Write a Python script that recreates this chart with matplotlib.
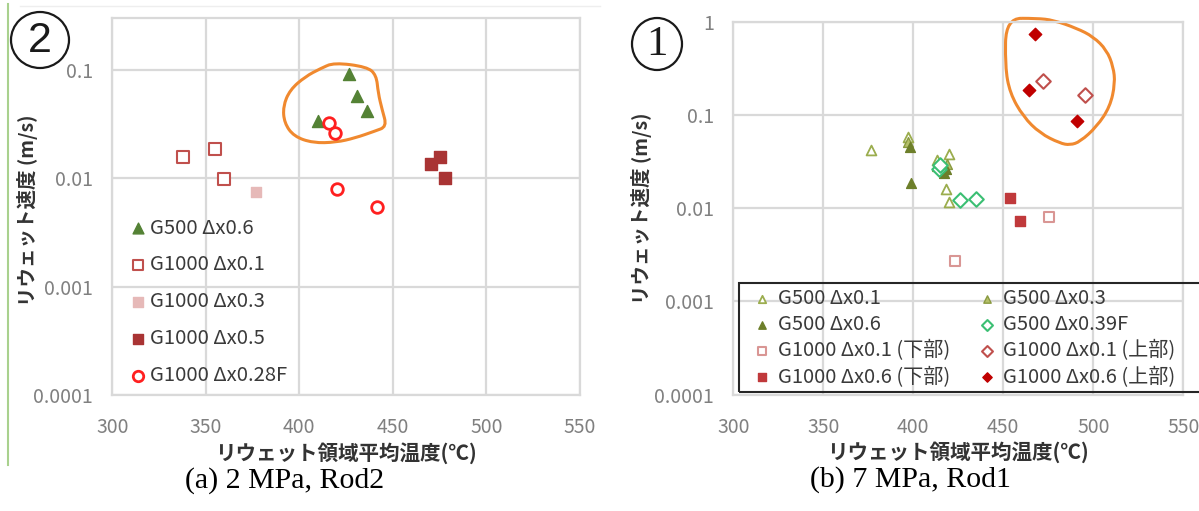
import numpy as np
import matplotlib
matplotlib.use('Agg')
import matplotlib.pyplot as plt
from matplotlib.path import Path
from matplotlib.patches import PathPatch, Rectangle, Ellipse
from matplotlib.ticker import FixedLocator, FixedFormatter, NullLocator

plt.rcParams['font.family'] = ['Noto Sans CJK JP', 'DejaVu Sans']

# ---- (a) 2 MPa, Rod2 ----
a_g500_06_x = [426.5, 431, 436, 410]
a_g500_06_y = [0.092, 0.057, 0.042, 0.034]
a_g1000_01_x = [338, 355, 359.5]
a_g1000_01_y = [0.0159, 0.0187, 0.0099]
a_g1000_03_x = [377]
a_g1000_03_y = [0.0075]
a_g1000_05_x = [470.5, 475, 478]
a_g1000_05_y = [0.0136, 0.0159, 0.0100]
a_g1000_028f_x = [416, 419, 420, 441.5]
a_g1000_028f_y = [0.0322, 0.026, 0.0079, 0.0054]

# hand-drawn loop around the high-speed group
a_loop_x = [418.6, 436.1, 441.2, 442.2, 444.3, 446.8, 440.2, 429.9,
            419.7, 407.3, 397.1, 392.0, 391.3, 395.0, 403.2, 411.5]
a_loop_y = [0.117, 0.107, 0.090, 0.061, 0.043, 0.030, 0.0272, 0.0236,
            0.0215, 0.0212, 0.0244, 0.0324, 0.0461, 0.0656, 0.0869, 0.1035]

# ---- (b) 7 MPa, Rod1 ----
b_g500_01_x = [376.5, 397, 420, 418, 420, 413]
b_g500_01_y = [0.042, 0.0575, 0.038, 0.0159, 0.0117, 0.033]
b_g500_03_x = [397, 418.5, 413]
b_g500_03_y = [0.051, 0.030, 0.028]
b_g500_06_x = [398, 398.5, 417, 418]
b_g500_06_y = [0.0455, 0.0185, 0.024, 0.0265]
b_g500_039f_x = [414, 415, 426, 435]
b_g500_039f_y = [0.0265, 0.029, 0.0122, 0.0124]
b_g1000_01_lo_x = [423, 475.5]
b_g1000_01_lo_y = [0.0027, 0.0081]
b_g1000_01_up_x = [472, 495.5]
b_g1000_01_up_y = [0.233, 0.163]
b_g1000_06_lo_x = [453.5, 459.5]
b_g1000_06_lo_y = [0.0127, 0.0072]
b_g1000_06_up_x = [467.5, 464.5, 491]
b_g1000_06_up_y = [0.73, 0.185, 0.087]

b_loop_x = [451.5, 451.0, 453.7, 461.1, 470.4, 481.5, 487.1, 492.6, 501.9,
            509.3, 512.1, 511.1, 507.4, 500.0, 490.8, 477.8, 468.6]
b_loop_y = [1.087, 0.329, 0.1706, 0.0957, 0.0635, 0.0496, 0.0475, 0.0515,
            0.0747, 0.1225, 0.218, 0.329, 0.497, 0.69, 0.85, 1.04, 1.087]

x_ticks = [300, 350, 400, 450, 500, 550]
a_y_ticks = [1e-4, 1e-3, 1e-2, 1e-1]
a_y_labels = ['0.0001', '0.001', '0.01', '0.1']
b_y_ticks = [1e-4, 1e-3, 1e-2, 1e-1, 1]
b_y_labels = ['0.0001', '0.001', '0.01', '0.1', '1']

ylabel = 'リウェット速度 (m/s)'
xlabel = 'リウェット領域平均温度(℃)'

ORANGE = '#f0892f'
GRID = '#d9d9d9'
TICK = '#808080'
TEXT = '#3a3a3a'

W, H = 1199, 511


def fx(px):
    return px / W


def fy(py):
    return 1 - py / H


def style_axes(ax, y_ticks, y_labels, ytop):
    ax.set_yscale('log')
    ax.set_xlim(300, 550)
    ax.set_ylim(1e-4, ytop)
    ax.xaxis.set_major_locator(FixedLocator(x_ticks))
    ax.yaxis.set_major_locator(FixedLocator(y_ticks))
    ax.yaxis.set_major_formatter(FixedFormatter(y_labels))
    ax.yaxis.set_minor_locator(NullLocator())
    ax.grid(True, color=GRID, lw=1.6)
    ax.set_axisbelow(True)
    for s in ax.spines.values():
        s.set_color(GRID)
        s.set_linewidth(1.6)
    ax.tick_params(axis='both', length=0, labelsize=14, labelcolor=TICK)
    ax.tick_params(axis='y', pad=14)
    ax.tick_params(axis='x', pad=16)


def draw_loop(ax, xs, ys):
    # smooth closed curve through the traced outline (quadratic segments)
    xs = np.asarray(xs, dtype=float)
    ly = np.log10(np.asarray(ys, dtype=float))
    mx = (xs + np.roll(xs, -1)) / 2
    my = 10 ** ((ly + np.roll(ly, -1)) / 2)
    verts = [(mx[-1], my[-1])]
    codes = [Path.MOVETO]
    for i in range(len(xs)):
        verts += [(xs[i], 10 ** ly[i]), (mx[i], my[i])]
        codes += [Path.CURVE3, Path.CURVE3]
    ax.add_patch(PathPatch(Path(verts, codes), fill=False, edgecolor=ORANGE,
                           lw=2.2, clip_on=False, zorder=1))


def circled_number(cx, cy, w, h, digit, family):
    fig.add_artist(Ellipse((fx(cx), fy(cy)), w / W, h / H, transform=fig.transFigure,
                           fill=False, edgecolor='#1a1a1a', lw=1.6))
    fig.text(fx(cx), fy(cy + 1), digit, ha='center', va='center', fontsize=31,
             family=family, color='#1a1a1a')


fig = plt.figure(figsize=(W / 100, H / 100), dpi=100)

# ---------------- left panel ----------------
ax1 = fig.add_axes([fx(112.3), fy(395), 467.5 / W, 376.7 / H])
style_axes(ax1, a_y_ticks, a_y_labels, 0.3)
draw_loop(ax1, a_loop_x, a_loop_y)

h1 = ax1.scatter(a_g500_06_x, a_g500_06_y, marker='^', s=75, color='#548235', zorder=3)
h2 = ax1.scatter(a_g1000_01_x, a_g1000_01_y, marker='s', s=70, facecolor='white',
                 edgecolor='#c0504d', lw=1.5, zorder=3)
h3 = ax1.scatter(a_g1000_03_x, a_g1000_03_y, marker='s', s=55, color='#e6b9b8', zorder=3)
h4 = ax1.scatter(a_g1000_05_x, a_g1000_05_y, marker='s', s=75, color='#a93434', zorder=3)
h5 = ax1.scatter(a_g1000_028f_x, a_g1000_028f_y, marker='o', s=70, facecolor='white',
                 edgecolor='#ff2020', lw=2, zorder=3)

leg1 = ax1.legend([h1, h2, h3, h4, h5],
                  ['G500 Δx0.6', 'G1000 Δx0.1', 'G1000 Δx0.3', 'G1000 Δx0.5', 'G1000 Δx0.28F'],
                  loc='upper left', bbox_to_anchor=(0.038, 0.471), frameon=False,
                  fontsize=14.6, scatterpoints=1, handlelength=0.8, handletextpad=0.2,
                  labelspacing=0.78, borderpad=0, borderaxespad=0, labelcolor=TEXT,
                  markerscale=0.9)

# ---------------- right panel ----------------
ax2 = fig.add_axes([fx(733.3), fy(394.5), 450 / W, 372.8 / H])
style_axes(ax2, b_y_ticks, b_y_labels, 1)
draw_loop(ax2, b_loop_x, b_loop_y)

k1 = ax2.scatter(b_g500_01_x, b_g500_01_y, marker='^', s=50, facecolor='white',
                 edgecolor='#9bad4e', lw=1.3, zorder=3)
k2 = ax2.scatter(b_g500_03_x, b_g500_03_y, marker='^', s=50, facecolor='#b5c06a',
                 edgecolor='#8a9a40', lw=1, zorder=3)
k3 = ax2.scatter(b_g500_06_x, b_g500_06_y, marker='^', s=50, color='#6d7f2a', zorder=3)
k4 = ax2.scatter(b_g500_039f_x, b_g500_039f_y, marker='D', s=55, facecolor='white',
                 edgecolor='#3bbf73', lw=1.5, zorder=3)
k5 = ax2.scatter(b_g1000_01_lo_x, b_g1000_01_lo_y, marker='s', s=60, facecolor='white',
                 edgecolor='#d99694', lw=1.5, zorder=3)
k6 = ax2.scatter(b_g1000_01_up_x, b_g1000_01_up_y, marker='D', s=55, facecolor='white',
                 edgecolor='#c0504d', lw=1.5, zorder=3)
k7 = ax2.scatter(b_g1000_06_lo_x, b_g1000_06_lo_y, marker='s', s=60, color='#c0393b', zorder=3)
k8 = ax2.scatter(b_g1000_06_up_x, b_g1000_06_up_y, marker='D', s=40, color='#c00000', zorder=3)

# column-major order gives the two-column row layout
leg2 = ax2.legend([k1, k3, k5, k7, k2, k4, k6, k8],
                  ['G500 Δx0.1', 'G500 Δx0.6', 'G1000 Δx0.1 (下部)', 'G1000 Δx0.6 (下部)',
                   'G500 Δx0.3', 'G500 Δx0.39F', 'G1000 Δx0.1 (上部)', 'G1000 Δx0.6 (上部)'],
                  ncol=2, loc='upper left', bbox_to_anchor=(0.045, 0.286), frameon=False,
                  fontsize=14.5, scatterpoints=1, handlelength=0.8, handletextpad=0.4,
                  labelspacing=0.26, columnspacing=1.45, borderpad=0, borderaxespad=0,
                  labelcolor=TEXT, markerscale=0.75)
ax2.add_patch(Rectangle((0.0127, 0.0067), 1.1, 0.292, transform=ax2.transAxes,
                        fill=False, edgecolor='#262626', lw=1.5, clip_on=False, zorder=4))

# ---------------- labels ----------------
fig.text(fx(28), fy(210), ylabel, rotation=90, ha='center', va='center',
         fontsize=14, fontweight='bold', color='#333333')
fig.text(fx(642), fy(208), ylabel, rotation=90, ha='center', va='center',
         fontsize=14, fontweight='bold', color='#333333')
fig.text(fx(346), fy(453), xlabel, ha='center', va='center',
         fontsize=14.8, fontweight='bold', color='#333333')
fig.text(fx(958), fy(452), xlabel, ha='center', va='center',
         fontsize=14.8, fontweight='bold', color='#333333')

circled_number(40, 40, 58, 56, '2', 'Liberation Sans')
circled_number(657, 44, 50, 52, '1', 'Liberation Serif')

fig.text(fx(285), fy(481), '(a) 2 MPa, Rod2', ha='center', va='center',
         fontsize=21.5, family='Liberation Serif', color='black')
fig.text(fx(910), fy(480), '(b) 7 MPa, Rod1', ha='center', va='center',
         fontsize=21.5, family='Liberation Serif', color='black')

# page edge marks around the left figure
fig.add_artist(plt.Line2D([fx(8), fx(8)], [fy(4), fy(465)], color='#a9d18e', lw=1.5))
fig.add_artist(plt.Line2D([fx(20), fx(600)], [fy(6), fy(6)], color='#eeeeee', lw=1))

fig.savefig('out.png', dpi=100)
